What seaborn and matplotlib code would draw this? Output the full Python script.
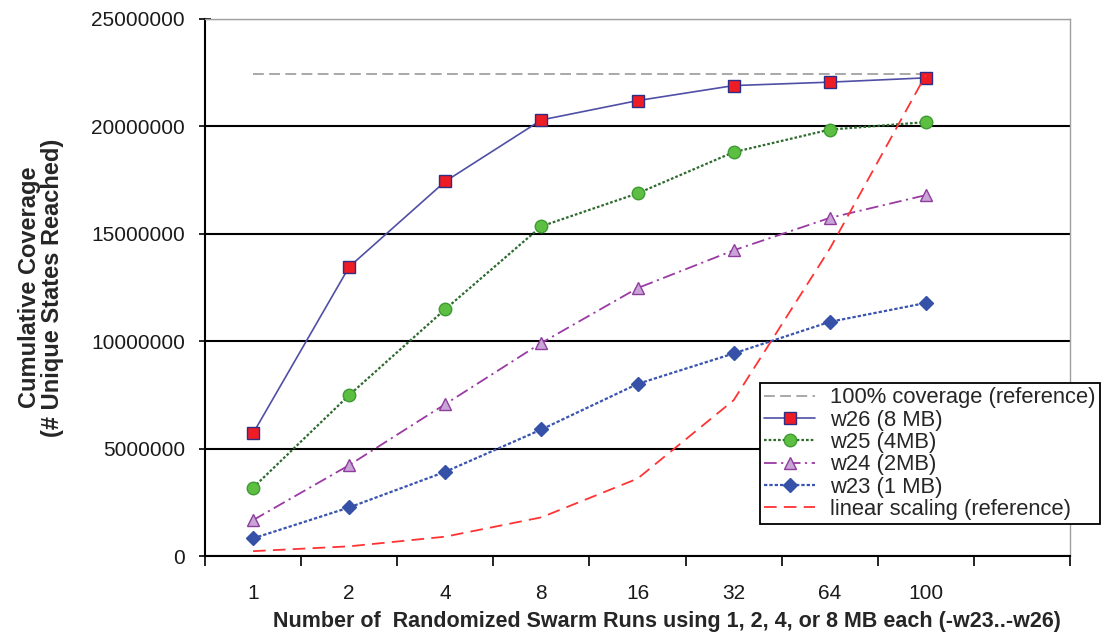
import matplotlib
matplotlib.use("Agg")
import matplotlib.pyplot as plt
import matplotlib.ticker as mticker
import numpy as np
import pandas as pd
import seaborn as sns

RUNS = ["1", "2", "4", "8", "16", "32", "64", "100"]
FULL_COVERAGE = [22420000, 22420000, 22420000, 22420000, 22420000, 22420000, 22420000, 22420000]
W26 = [5710000, 13460000, 17440000, 20300000, 21200000, 21900000, 22060000, 22260000]
W25 = [3180000, 7490000, 11490000, 15350000, 16880000, 18800000, 19850000, 20200000]
W24 = [1670000, 4230000, 7070000, 9920000, 12470000, 14230000, 15740000, 16800000]
W23 = [820000, 2260000, 3920000, 5890000, 8010000, 9430000, 10900000, 11780000]
LINEAR = [225000, 450000, 900000, 1800000, 3600000, 7250000, 14300000, 22400000]

SERIES = [
    ("100% coverage (reference)", FULL_COVERAGE,
     dict(color="#9a9a9a", lw=1.2, ls=(0, (6.5, 3.2)))),
    ("w26 (8 MB)", W26,
     dict(color="#4f4fa6", lw=1.2, ls="-", marker="s", markersize=8.5,
          markerfacecolor="#ee1c25", markeredgecolor="#2e2e85", markeredgewidth=1.0)),
    ("w25 (4MB)", W25,
     dict(color="#2f6a2f", lw=1.6, ls=(0, (1.2, 0.9)), marker="o", markersize=9,
          markerfacecolor="#5cbf42", markeredgecolor="#3f9a33", markeredgewidth=1.0)),
    ("w24 (2MB)", W24,
     dict(color="#9a3aa3", lw=1.3, ls=(0, (7, 2.5, 1.2, 2.5)), marker="^", markersize=9,
          markerfacecolor="#c9a4d6", markeredgecolor="#8e3c9e", markeredgewidth=1.0)),
    ("w23 (1 MB)", W23,
     dict(color="#3a54b0", lw=1.6, ls=(0, (1.5, 0.9)), marker="D", markersize=7.5,
          markerfacecolor="#3552a8", markeredgecolor="#3552a8", markeredgewidth=1.0)),
    ("linear scaling (reference)", LINEAR,
     dict(color="#ff3333", lw=1.3, ls=(0, (7, 4)))),
]

sns.set_theme(style="white")
plt.rcParams["font.family"] = ["Liberation Sans", "DejaVu Sans"]

fig = plt.figure(figsize=(11.18, 6.36), dpi=100)
ax = fig.add_axes([205 / 1118, 80 / 636, 865 / 1118, 537 / 636])

pos = np.arange(len(RUNS))
for label, values, style in SERIES:
    df = pd.DataFrame({"pos": pos, "value": values})
    sns.lineplot(data=df, x="pos", y="value", ax=ax, label=label, errorbar=None,
                 zorder=3, **style)

ax.set_xlim(-0.5, len(RUNS) + 0.5)
ax.set_ylim(0, 25000000)
ax.yaxis.set_major_locator(mticker.MultipleLocator(5000000))
ax.yaxis.set_major_formatter(mticker.FuncFormatter(lambda v, _: f"{v:.0f}"))
ax.set_xticks(pos)
ax.set_xticklabels(RUNS)
ax.set_xticks(np.arange(-0.5, len(RUNS) + 1, 1.0), minor=True)
ax.tick_params(axis="x", which="major", length=0, pad=20, labelsize=15, colors="#1a1a1a")
ax.tick_params(axis="x", which="minor", length=7, width=1.2, direction="out", color="black")
ax.tick_params(axis="y", which="major", length=9, width=1.2, direction="inout", pad=10,
               labelsize=15, colors="#1a1a1a")
ax.tick_params(axis="y", which="major", color="black")
ax.tick_params(left=True, bottom=True)
ax.tick_params(axis="x", which="minor", bottom=True)

ax.grid(False)
ax.yaxis.grid(True, color="black", lw=1.5)
ax.set_axisbelow(True)
for side in ["left", "bottom"]:
    ax.spines[side].set_color("black")
    ax.spines[side].set_linewidth(1.5)
for side in ["top", "right"]:
    ax.spines[side].set_color("#a0a0a0")
    ax.spines[side].set_linewidth(1.0)

ax.set_ylabel("Cumulative Coverage\n(# Unique States Reached)", fontsize=17,
              fontweight="bold", linespacing=1.0)
ax.yaxis.set_label_coords(-0.163, 0.5)
ax.set_xlabel("Number of  Randomized Swarm Runs using 1, 2, 4, or 8 MB each (-w23..-w26)",
              fontsize=15.5, fontweight="bold")
ax.xaxis.set_label_coords(0.5335, -0.102)

handles, labels = ax.get_legend_handles_labels()
leg = ax.legend(handles, labels, loc="upper left", bbox_to_anchor=(760 / 1118, 1 - 383 / 636),
                bbox_transform=fig.transFigure, borderaxespad=0, fontsize=15.8, frameon=True,
                fancybox=False, framealpha=1, edgecolor="black", borderpad=0.2,
                labelspacing=0.06, handlelength=2.3, handletextpad=0.7)
leg.get_frame().set_linewidth(1.3)
leg.set_zorder(5)

fig.savefig("out.png", dpi=100)
